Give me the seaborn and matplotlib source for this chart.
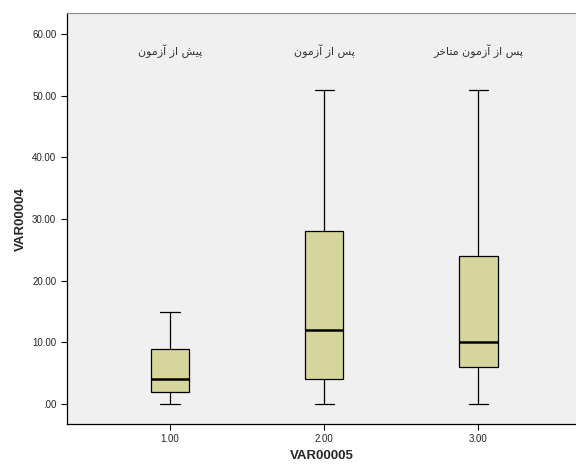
import pandas as pd
import seaborn as sns
import matplotlib.pyplot as plt
from matplotlib.ticker import FuncFormatter

# Five-number summaries (min, Q1, median, Q3, max)
groups = ["1.00", "2.00", "3.00"]
pre_test = [0, 2, 4, 9, 15]
post_test = [0, 4, 12, 28, 51]
delayed_test = [0, 6, 10, 24, 51]
group_titles = ["پیش از آزمون", "پس از آزمون", "پس از آزمون متاخر"]
y_ticks = [0, 10, 20, 30, 40, 50, 60]

# Arabic presentation forms: isolated, final, initial, medial
FORMS = {
    "ا": ("\uFE8D", "\uFE8E", None, None),
    "آ": ("\uFE81", "\uFE82", None, None),
    "ز": ("\uFEAF", "\uFEB0", None, None),
    "ر": ("\uFEAD", "\uFEAE", None, None),
    "و": ("\uFEED", "\uFEEE", None, None),
    "پ": ("\uFB56", "\uFB57", "\uFB58", "\uFB59"),
    "ی": ("\uFBFC", "\uFBFD", "\uFBFE", "\uFBFF"),
    "ش": ("\uFEB5", "\uFEB6", "\uFEB7", "\uFEB8"),
    "م": ("\uFEE1", "\uFEE2", "\uFEE3", "\uFEE4"),
    "ن": ("\uFEE5", "\uFEE6", "\uFEE7", "\uFEE8"),
    "س": ("\uFEB1", "\uFEB2", "\uFEB3", "\uFEB4"),
    "ت": ("\uFE95", "\uFE96", "\uFE97", "\uFE98"),
    "خ": ("\uFEA5", "\uFEA6", "\uFEA7", "\uFEA8"),
}


def shape(text):
    # matplotlib has no text shaping, so join letters by hand and reverse
    out = []
    for i, ch in enumerate(text):
        if ch not in FORMS:
            out.append(ch)
            continue
        prev = text[i - 1] if i > 0 else ""
        nxt = text[i + 1] if i + 1 < len(text) else ""
        join_prev = prev in FORMS and FORMS[prev][2] is not None
        join_next = nxt in FORMS and FORMS[ch][2] is not None
        iso, fin, ini, med = FORMS[ch]
        if join_prev and join_next:
            out.append(med)
        elif join_prev:
            out.append(fin)
        elif join_next:
            out.append(ini)
        else:
            out.append(iso)
    return "".join(reversed(out))


df = pd.DataFrame({
    "VAR00005": [g for g, vals in zip(groups, [pre_test, post_test, delayed_test]) for _ in vals],
    "VAR00004": pre_test + post_test + delayed_test,
})

sns.set_style("ticks")
plt.rcParams["font.family"] = ["Liberation Sans", "DejaVu Sans"]

fig = plt.figure(figsize=(5.76, 4.66), dpi=100)
ax = fig.add_axes([0.1158, 0.0901, 0.8842, 0.8819])
ax.set_facecolor("#f0f0f0")

sns.boxplot(data=df, x="VAR00005", y="VAR00004", order=groups, ax=ax,
            width=0.25, whis=(0, 100), color="#d6d59b", saturation=1,
            linecolor="black", linewidth=0.9,
            medianprops={"linewidth": 1.8, "color": "black"})

for i, t in enumerate(group_titles):
    ax.text(i, 57.2, shape(t), ha="center", va="center", fontsize=8,
            color="#333333", family=["DejaVu Sans"])

ax.set_xlim(-0.671, 2.634)
ax.set_ylim(-3.24, 63.4)
ax.set_yticks(y_ticks)
ax.yaxis.set_major_formatter(FuncFormatter(lambda v, p: f"{v:.2f}".lstrip("0") if v == 0 else f"{v:.2f}"))
ax.tick_params(axis="both", labelsize=7, length=4, width=0.8, color="black")

ax.set_xlabel("VAR00005", fontsize=9.5, fontweight="bold")
ax.set_ylabel("VAR00004", fontsize=9.5, fontweight="bold")

for s in ["left", "bottom"]:
    ax.spines[s].set_color("black")
    ax.spines[s].set_linewidth(0.9)
ax.spines["top"].set_color("#8a8a8a")
ax.spines["right"].set_visible(False)

fig.savefig("out.png", dpi=100)
